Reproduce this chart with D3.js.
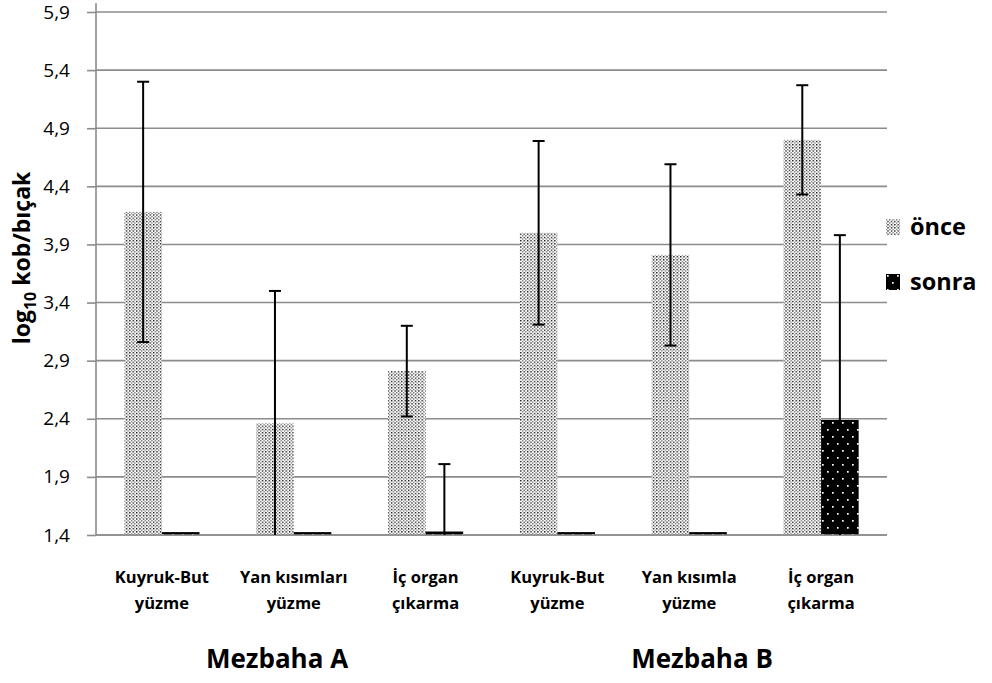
<!DOCTYPE html>
<html>
<head>
<meta charset="utf-8">
<script src="https://cdn.jsdelivr.net/npm/d3@7/dist/d3.min.js"></script>
<style>
  html, body { margin: 0; padding: 0; background: #fff; }
  svg { display: block; font-family: "Open Sans", "Liberation Sans", sans-serif; }
</style>
</head>
<body>
<svg id="chart" width="992" height="683"></svg>
<script>
// Category labels (two lines each) and slaughterhouse groups
const categories = ["Kuyruk-But yüzme A", "Yan kısımları yüzme", "İç organ çıkarma A",
                    "Kuyruk-But yüzme B", "Yan kısımla yüzme", "İç organ çıkarma B"];
const categoryLines = [["Kuyruk-But", "yüzme"], ["Yan kısımları", "yüzme"], ["İç organ", "çıkarma"],
                       ["Kuyruk-But", "yüzme"], ["Yan kısımla", "yüzme"], ["İç organ", "çıkarma"]];
const groups = ["Mezbaha A", "Mezbaha B"];
const series = ["önce", "sonra"];

// log10 kob/bıçak means and standard deviations
const onceValues = [4.18, 2.36, 2.81, 4.00, 3.81, 4.80];
const onceErrors = [1.12, 1.14, 0.39, 0.79, 0.78, 0.47];
const sonraValues = [1.425, 1.425, 1.43, 1.425, 1.425, 2.39];
const sonraErrors = [0, 0, 0.58, 0, 0, 1.59];

const yTicks = [1.4, 1.9, 2.4, 2.9, 3.4, 3.9, 4.4, 4.9, 5.4, 5.9];

const svg = d3.select("#chart");
const plotLeft = 96, plotRight = 887, plotTop = 12, plotBottom = 535;

const x = d3.scaleBand().domain(categories).range([plotLeft, plotRight]).paddingInner(0.43).paddingOuter(0.215);
const xs = d3.scaleBand().domain(series).range([0, x.bandwidth()]).padding(0);
const y = d3.scaleLinear().domain([1.4, 5.9]).range([plotBottom, plotTop]);

// Fill patterns
const defs = svg.append("defs");
const p1 = defs.append("pattern").attr("id", "patOnce").attr("patternUnits", "userSpaceOnUse")
  .attr("width", 3.4).attr("height", 3.2);
p1.append("rect").attr("width", 3.4).attr("height", 3.2).attr("fill", "#fff");
p1.append("rect").attr("x", 0).attr("y", 0).attr("width", 1.3).attr("height", 1.3).attr("fill", "#000");
p1.append("rect").attr("x", 1.7).attr("y", 1.6).attr("width", 1.3).attr("height", 1.3).attr("fill", "#6a6a6a");

const p2 = defs.append("pattern").attr("id", "patSonra").attr("patternUnits", "userSpaceOnUse")
  .attr("width", 10).attr("height", 14);
p2.append("rect").attr("width", 10).attr("height", 14).attr("fill", "#000");
p2.append("rect").attr("x", 2).attr("y", 2).attr("width", 1.7).attr("height", 1.7).attr("fill", "#fff");
p2.append("rect").attr("x", 7).attr("y", 9).attr("width", 1.7).attr("height", 1.7).attr("fill", "#fff");

// Gridlines
svg.append("g").selectAll("line").data(yTicks).join("line")
  .attr("x1", plotLeft).attr("x2", plotRight)
  .attr("y1", d => y(d)).attr("y2", d => y(d))
  .attr("stroke", "#8c8c8c").attr("stroke-width", 1.6);

// Y axis
const yAxis = d3.axisLeft(y).tickValues(yTicks).tickSize(9).tickPadding(17)
  .tickFormat(d => d3.format(".1f")(d).replace(".", ","));
const ya = svg.append("g").attr("transform", `translate(${plotLeft},0)`).call(yAxis);
ya.select(".domain").remove();
ya.selectAll(".tick line").attr("stroke", "#8c8c8c").attr("stroke-width", 1.6);
ya.selectAll(".tick text").attr("font-size", 19).attr("fill", "#000")
  .attr("font-family", "'Open Sans', sans-serif");
svg.append("line").attr("x1", plotLeft).attr("x2", plotLeft).attr("y1", 3).attr("y2", plotBottom)
  .attr("stroke", "#8c8c8c").attr("stroke-width", 1.6);

// Bars
const fills = { "önce": "url(#patOnce)", "sonra": "url(#patSonra)" };
const rows = categories.flatMap((c, i) => [
  { cat: c, s: "önce", v: onceValues[i], e: onceErrors[i] },
  { cat: c, s: "sonra", v: sonraValues[i], e: sonraErrors[i] }
]);
svg.append("g").selectAll("rect").data(rows).join("rect")
  .attr("x", d => x(d.cat) + xs(d.s))
  .attr("width", xs.bandwidth())
  .attr("y", d => y(d.v))
  .attr("height", d => y(1.4) - y(d.v))
  .attr("fill", d => fills[d.s]);

// Bottom axis line
svg.append("line").attr("x1", plotLeft).attr("x2", plotRight).attr("y1", plotBottom).attr("y2", plotBottom)
  .attr("stroke", "#8c8c8c").attr("stroke-width", 1.6);

// Error bars (clipped to the axis minimum)
const eb = svg.append("g").attr("stroke", "#000").attr("stroke-width", 2);
rows.filter(d => d.e > 0).forEach(d => {
  const cx = x(d.cat) + xs(d.s) + xs.bandwidth() / 2;
  const hi = d.v + d.e, lo = Math.max(1.4, d.v - d.e);
  eb.append("line").attr("x1", cx).attr("x2", cx).attr("y1", y(hi)).attr("y2", y(lo));
  eb.append("line").attr("x1", cx - 6).attr("x2", cx + 6).attr("y1", y(hi)).attr("y2", y(hi));
  if (d.v - d.e > 1.4) {
    eb.append("line").attr("x1", cx - 6).attr("x2", cx + 6).attr("y1", y(lo)).attr("y2", y(lo));
  }
});

// Category labels
const cl = svg.append("g").attr("font-weight", "bold").attr("font-size", 16.5).attr("text-anchor", "middle");
categories.forEach((c, i) => {
  const cx = x(c) + x.bandwidth() / 2;
  const t = cl.append("text").attr("x", cx).attr("y", 583);
  t.append("tspan").attr("x", cx).text(categoryLines[i][0]);
  t.append("tspan").attr("x", cx).attr("dy", 26).text(categoryLines[i][1]);
});

// Group labels
const groupX = [277, 702];
svg.append("g").selectAll("text").data(groups).join("text")
  .attr("x", (d, i) => groupX[i]).attr("y", 668)
  .attr("text-anchor", "middle").attr("font-weight", "bold").attr("font-size", 26)
  .text(d => d);

// Y axis title
const yt = svg.append("text").attr("transform", "translate(30,258) rotate(-90)")
  .attr("text-anchor", "middle").attr("font-weight", "bold").attr("font-size", 23);
yt.append("tspan").text("log");
yt.append("tspan").attr("font-size", 16).attr("dy", 6).text("10");
yt.append("tspan").attr("dy", -6).text(" kob/bıçak");

// Legend
const legY = [219, 274];
const lg = svg.append("g");
series.forEach((s, i) => {
  lg.append("rect").attr("x", 886).attr("y", legY[i]).attr("width", 14).attr("height", 16)
    .attr("fill", fills[s]);
  lg.append("text").attr("x", 910).attr("y", legY[i] + 16)
    .attr("font-weight", "bold").attr("font-size", 23.5).text(s);
});
</script>
</body>
</html>
